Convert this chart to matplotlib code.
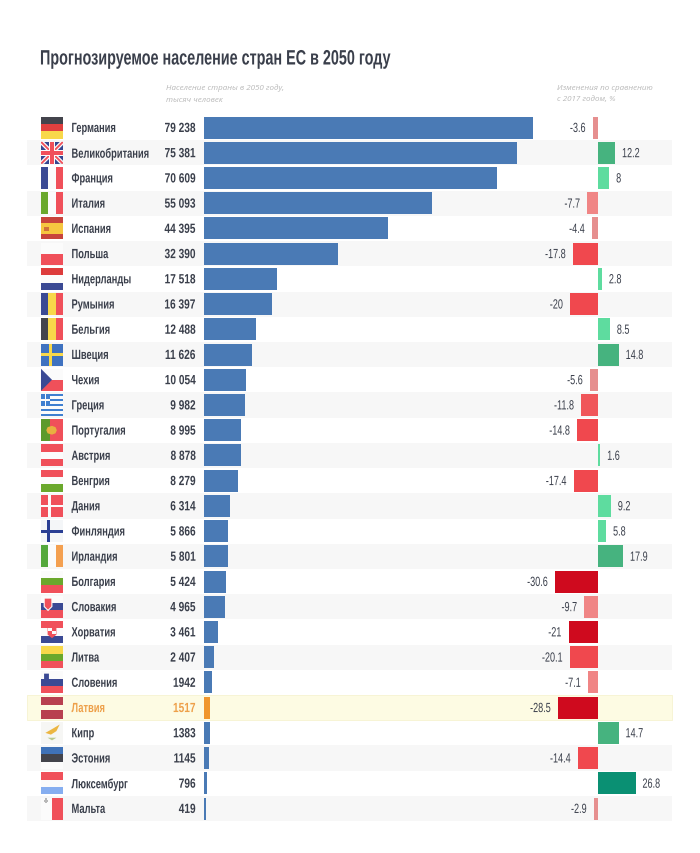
import matplotlib
matplotlib.use("Agg")
import matplotlib.pyplot as plt
from matplotlib.patches import Rectangle, Polygon, Circle
from matplotlib.patheffects import AbstractPathEffect
from matplotlib.transforms import Affine2D

plt.rcParams['font.family'] = ['Liberation Sans', 'DejaVu Sans']

countries = ["Германия","Великобритания","Франция","Италия","Испания","Польша","Нидерланды","Румыния",
             "Бельгия","Швеция","Чехия","Греция","Португалия","Австрия","Венгрия","Дания","Финляндия",
             "Ирландия","Болгария","Словакия","Хорватия","Литва","Словения","Латвия","Кипр","Эстония",
             "Люксембург","Мальта"]
population = [79238,75381,70609,55093,44395,32390,17518,16397,12488,11626,10054,9982,8995,8878,8279,
              6314,5866,5801,5424,4965,3461,2407,1942,1517,1383,1145,796,419]
pop_labels = ["79 238","75 381","70 609","55 093","44 395","32 390","17 518","16 397","12 488","11 626",
              "10 054","9 982","8 995","8 878","8 279","6 314","5 866","5 801","5 424","4 965","3 461",
              "2 407","1942","1517","1383","1145","796","419"]
change = [-3.6,12.2,8,-7.7,-4.4,-17.8,2.8,-20,8.5,14.8,-5.6,-11.8,-14.8,1.6,-17.4,9.2,5.8,17.9,-30.6,
          -9.7,-21,-20.1,-7.1,-28.5,14.7,-14.4,26.8,-2.9]
highlight = "Латвия"


class Squeeze(AbstractPathEffect):
    """Draws the text narrower, keeping its left or right edge in place."""
    def __init__(self, sx, right=False):
        super().__init__()
        self.sx, self.right = sx, right

    def draw_path(self, renderer, gc, tpath, affine, rgbFace=None):
        pre = Affine2D()
        if self.right:
            x1 = tpath.get_extents().x1
            pre = pre.translate(-x1, 0).scale(self.sx, 1).translate(x1, 0)
        else:
            pre = pre.scale(self.sx, 1)
        renderer.draw_path(gc, tpath, pre + affine, rgbFace)


W, H = 700, 854
ROW0, PITCH = 128.6, 25.22
n = len(countries)
top_px, bot_px = ROW0 - PITCH/2, ROW0 + (n-0.5)*PITCH
TXT = "#3a3f4b"
GREY = "#b8b8b8"
BLUE = "#4a7ab5"
ORANGE = "#f0962e"
LBL = 9.6
DY = 1.4/PITCH   # labels sit slightly below the row centre


def change_color(v):
    if v >= 20: return "#0a9073"
    if v >= 10: return "#46b37f"
    if v > 0: return "#5edc9f"
    if v <= -20.5: return "#cf0a1e"
    if v <= -14: return "#f0484e"
    if v <= -10: return "#f0565a"
    if v <= -6.5: return "#f08585"
    return "#e68f8f"


fig = plt.figure(figsize=(W/100, H/100), dpi=100, facecolor="white")


def make_ax(x0, x1, z):
    a = fig.add_axes([x0/W, 1-bot_px/H, (x1-x0)/W, (bot_px-top_px)/H], zorder=z)
    a.set_ylim(n-0.5, -0.5)
    a.axis("off")
    return a


bg = make_ax(0, W, 1); bg.set_xlim(0, W)
ax_pop = make_ax(204, 532.5, 2); ax_pop.set_xlim(0, max(population))
ZERO = 598; SC = 1.4
ax_chg = make_ax(540, 670, 2); ax_chg.set_xlim((540-ZERO)/SC, (670-ZERO)/SC)

for i, c in enumerate(countries):
    if c == highlight:
        bg.add_patch(Rectangle((27, i-0.5), 645, 1, fc="#fdfbe3", ec="#f6f3d0", lw=0.6))
    elif i % 2 == 1:
        bg.add_patch(Rectangle((27, i-0.5), 645, 1, fc="#f7f7f7", ec="none"))

bar_h = 22/PITCH
ax_pop.barh(range(n), population, height=bar_h,
            color=[ORANGE if c == highlight else BLUE for c in countries])
ax_chg.barh(range(n), change, height=bar_h, color=[change_color(v) for v in change])

for i, (c, lab, v) in enumerate(zip(countries, pop_labels, change)):
    col = "#eea04a" if c == highlight else TXT
    bg.text(71.5, i+DY, c, va="center", ha="left", fontsize=LBL, fontweight="bold", color=col,
            path_effects=[Squeeze(0.70)])
    bg.text(196, i+DY, lab, va="center", ha="right", fontsize=LBL, fontweight="bold", color=col,
            path_effects=[Squeeze(0.76, right=True)])
    s = f"{v:g}"
    if v < 0:
        ax_chg.annotate(s, (v, i+DY), xytext=(-5, 0), textcoords="offset points", va="center", ha="right",
                        fontsize=LBL, color=TXT, path_effects=[Squeeze(0.68, right=True)])
    else:
        ax_chg.annotate(s, (v, i+DY), xytext=(5, 0), textcoords="offset points", va="center", ha="left",
                        fontsize=LBL, color=TXT, path_effects=[Squeeze(0.68)])

fig.text(40/W, 1-60/H, "Прогнозируемое население стран ЕС в 2050 году", fontsize=15, fontweight="bold",
         color=TXT, va="center", ha="left", path_effects=[Squeeze(0.69)])
for x, y, s in [(166, 88, "Население страны в 2050 году,"), (166, 100, "тысяч человек"),
                (557, 88, "Изменения по сравнению"), (557, 100, "с 2017 годом, %")]:
    fig.text(x/W, 1-y/H, s, fontsize=5.8, style="italic", color=GREY, va="center", ha="left",
             family=["Open Sans", "DejaVu Sans"])

# Flags: painted in a 0..1 unit square
R, WH, B, G, Y, K = "#f0505a", "#fbfbfb", "#3b4a94", "#6aa82c", "#f8d84a", "#43444c"


def flag(i, parts):
    x0, w = 41.0, 22.0
    h = 22/PITCH
    fx = lambda u: x0 + u*w
    fy = lambda v: i - h/2 + v*h
    for kind, col, *p in parts:
        if kind == "h":
            bg.add_patch(Rectangle((x0, fy(p[0])), w, (p[1]-p[0])*h, fc=col, ec="none", zorder=3))
        elif kind == "v":
            bg.add_patch(Rectangle((fx(p[0]), i-h/2), (p[1]-p[0])*w, h, fc=col, ec="none", zorder=3))
        elif kind == "r":
            bg.add_patch(Rectangle((fx(p[0]), fy(p[1])), (p[2]-p[0])*w, (p[3]-p[1])*h, fc=col, ec="none", zorder=3))
        elif kind == "p":
            bg.add_patch(Polygon([(fx(a), fy(b)) for a, b in p[0]], closed=True, fc=col, ec="none", zorder=3))


def hbands(*cols):
    k = len(cols)
    return [("h", c, j/k, (j+1)/k) for j, c in enumerate(cols)]


def vbands(*cols):
    k = len(cols)
    return [("v", c, j/k, (j+1)/k) for j, c in enumerate(cols)]


uk = [("h", "#35458f", 0, 1),
      ("p", WH, [(0,0),(.14,0),(1,.86),(1,1),(.86,1),(0,.14)]),
      ("p", WH, [(1,0),(.86,0),(0,.86),(0,1),(.14,1),(1,.14)]),
      ("p", R, [(0,0),(.06,0),(1,.94),(1,1),(.94,1),(0,.06)]),
      ("p", R, [(1,0),(.94,0),(0,.94),(0,1),(.06,1),(1,.06)]),
      ("h", WH, .36, .64), ("v", WH, .36, .64), ("h", R, .42, .58), ("v", R, .42, .58)]
greece = [("h", "#3f7fd0" if j % 2 == 0 else WH, j/9, (j+1)/9) for j in range(9)] + \
         [("r", "#3f7fd0", 0, 0, .4, .55), ("r", WH, .16, 0, .24, .55), ("r", WH, 0, .22, .4, .33)]
roundel = [(.30,.36),(.5,.30),(.66,.36),(.72,.5),(.66,.64),(.5,.70),(.30,.64),(.24,.5)]
flags = {
 "Германия": hbands(K, "#e0403f", Y),
 "Великобритания": uk,
 "Франция": vbands(B, WH, R),
 "Италия": vbands(G, WH, R),
 "Испания": [("h", "#c8443c", 0, 1), ("h", "#f6c640", .25, .75), ("r", "#d0703a", .12, .42, .38, .6)],
 "Польша": hbands(WH, R),
 "Нидерланды": hbands("#dd3c3c", WH, B),
 "Румыния": vbands(B, Y, R),
 "Бельгия": vbands(K, Y, R),
 "Швеция": [("h", "#3f72c0", 0, 1), ("h", Y, .42, .56), ("v", Y, .38, .5)],
 "Чехия": [("h", WH, 0, .5), ("h", R, .5, 1), ("p", B, [(0,0),(.5,.5),(0,1)])],
 "Греция": greece,
 "Португалия": [("v", "#5c9a2c", 0, .4), ("v", R, .4, 1), ("p", "#e8b040", roundel)],
 "Австрия": hbands(R, WH, R),
 "Венгрия": hbands(R, WH, G),
 "Дания": [("h", R, 0, 1), ("v", WH, .33, .44), ("h", WH, .44, .56)],
 "Финляндия": [("h", "#f4f6f8", 0, 1), ("v", "#2a3f94", .28, .42), ("h", "#2a3f94", .43, .57)],
 "Ирландия": vbands("#55a83c", WH, "#f4a050"),
 "Болгария": hbands(WH, G, R),
 "Словакия": hbands(WH, B, R) + [("p", WH, [(.12,.08),(.52,.08),(.52,.5),(.32,.7),(.12,.5)]),
                                  ("p", R, [(.17,.13),(.47,.13),(.47,.48),(.32,.63),(.17,.48)])],
 "Хорватия": hbands(R, WH, B) + [("p", R, [(.3,.18),(.7,.18),(.7,.62),(.5,.78),(.3,.62)]),
                                  ("r", WH, .3, .32, .5, .46), ("r", WH, .5, .46, .7, .6)],
 "Литва": hbands(Y, G, R),
 "Словения": hbands(WH, B, R) + [("p", B, [(.14,.1),(.36,.1),(.36,.4),(.25,.5),(.14,.4)])],
 "Латвия": [("h", "#b84050", 0, .4), ("h", "#fdfbe3", .4, .6), ("h", "#b84050", .6, 1)],
 "Кипр": [("h", "#f6f6f4", 0, 1), ("p", "#ecb642", [(.2,.5),(.55,.3),(.85,.12),(.7,.42),(.45,.58)]),
          ("p", "#b9c98c", [(.3,.72),(.7,.72),(.5,.84)])],
 "Эстония": hbands("#3f72b8", K, WH),
 "Люксембург": hbands(R, WH, "#86aef0"),
 "Мальта": [("h", WH, 0, 1), ("v", R, .5, 1), ("r", "#b8b8b8", .12, .1, .34, .2), ("r", "#b8b8b8", .18, .03, .28, .27)],
}
for i, c in enumerate(countries):
    flag(i, flags[c])

fig.savefig("out.png", dpi=100, facecolor="white")
